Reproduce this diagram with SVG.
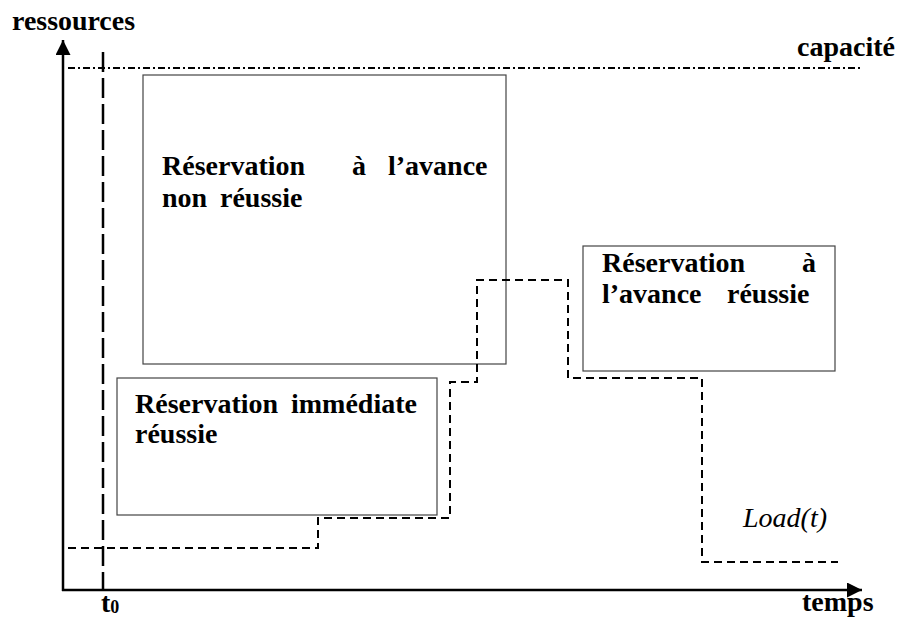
<svg xmlns="http://www.w3.org/2000/svg" width="898" height="619" viewBox="0 0 898 619">
<style>
.lbl{font-family:"Liberation Serif","Times New Roman",serif;font-size:28px;font-weight:bold;fill:#000}
.it{font-family:"Liberation Serif","Times New Roman",serif;font-size:28px;font-style:italic;fill:#000}
.box{fill:#fff;stroke:#444;stroke-width:1.2}
.axis{stroke:#000;stroke-width:2.5;fill:none}
.load{stroke:#000;stroke-width:2;fill:none;stroke-dasharray:8 5}
.t0{stroke:#000;stroke-width:2.5;fill:none;stroke-dasharray:20 6}
.cap{stroke:#000;stroke-width:1.8;fill:none;stroke-dasharray:7 3 2 3}
</style>
<defs>
<marker id="arr" viewBox="0 0 10 10" refX="10" refY="5" markerWidth="6" markerHeight="6" markerUnits="strokeWidth" orient="auto">
<path d="M0,0 L10,5 L0,10 Z" fill="#000"/>
</marker>
</defs>
<rect width="898" height="619" fill="#fff"/>
<g id="axes">
<line class="axis" x1="63" y1="591" x2="63" y2="40" marker-end="url(#arr)"/>
<line class="axis" x1="62" y1="590" x2="862" y2="590" marker-end="url(#arr)"/>
<text class="lbl" x="12" y="30" textLength="123" lengthAdjust="spacingAndGlyphs">ressources</text>
<text class="lbl" x="802" y="611">temps</text>
<text class="lbl" x="101" y="612">t<tspan font-size="18" dy="1">0</tspan></text>
</g>
<g id="capacite">
<line class="cap" x1="68" y1="68" x2="860" y2="68"/>
<text class="lbl" x="797" y="56">capacité</text>
</g>
<g id="t0-line">
<line class="t0" x1="103" y1="52" x2="103" y2="590"/>
</g>
<g id="node-avance-non-reussie">
<rect class="box" x="143" y="75" width="363" height="289"/>
<text class="lbl" x="162" y="175">Réservation</text>
<text class="lbl" x="352" y="175">à</text>
<text class="lbl" x="388" y="175">l’avance</text>
<text class="lbl" x="162" y="207">non</text>
<text class="lbl" x="220" y="207">réussie</text>
</g>
<g id="node-immediate">
<rect class="box" x="117" y="378" width="320" height="137"/>
<text class="lbl" x="135" y="413">Réservation</text>
<text class="lbl" x="291" y="413">immédiate</text>
<text class="lbl" x="135" y="443">réussie</text>
</g>
<g id="node-avance-reussie">
<rect class="box" x="583" y="246" width="252" height="125"/>
<text class="lbl" x="602" y="272">Réservation</text>
<text class="lbl" x="802" y="272">à</text>
<text class="lbl" x="602" y="303">l’avance</text>
<text class="lbl" x="727" y="303">réussie</text>
</g>
<g id="connectors">
<path class="load" d="M68,548 H318 V518 H450 V382 H477 V280 H568 V378 H702 V562 H838"/>
<text class="it" x="743" y="527">Load(t)</text>
</g>
</svg>
